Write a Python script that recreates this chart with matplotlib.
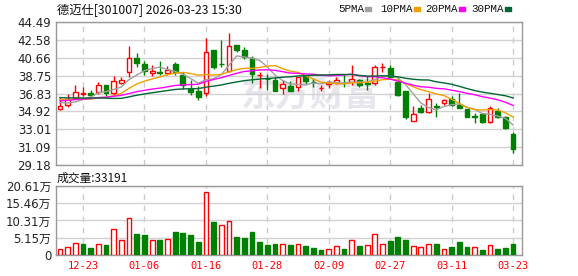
import numpy as np
import pandas as pd
import matplotlib
matplotlib.use("Agg")
import matplotlib.pyplot as plt
from matplotlib.patches import Rectangle

# trading days shown (2025-12-18 .. 2026-03-23)
dates = ["12-18", "12-19", "12-22", "12-23", "12-24", "12-25", "12-26", "12-29", "12-30", "12-31",
         "01-05", "01-06", "01-07", "01-08", "01-09", "01-12", "01-13", "01-14", "01-15", "01-16",
         "01-19", "01-20", "01-21", "01-22", "01-23", "01-26", "01-27", "01-28", "01-29", "01-30",
         "02-02", "02-03", "02-04", "02-05", "02-06", "02-09", "02-10", "02-11", "02-12", "02-13",
         "02-24", "02-25", "02-26", "02-27", "03-02", "03-03", "03-04", "03-05", "03-06", "03-09",
         "03-10", "03-11", "03-12", "03-13", "03-16", "03-17", "03-18", "03-19", "03-20", "03-23"]
tick_dates = ["12-23", "01-06", "01-16", "01-28", "02-09", "02-27", "03-11", "03-23"]

opens = [35.20, 35.60, 36.40, 36.75, 36.92, 36.96, 37.74, 36.86, 37.93, 39.14,
         40.64, 40.03, 38.99, 39.10, 38.99, 39.99, 38.78, 37.35, 37.10, 36.92,
         41.49, 40.00, 39.21, 41.99, 41.49, 40.64, 38.78, 38.42, 38.28, 37.39,
         37.64, 37.55, 38.71, 38.08, 37.42, 37.80, 37.93, 38.00, 38.10, 38.28,
         37.95, 37.99, 39.68, 39.53, 38.10, 37.12, 33.89, 35.25, 34.89, 35.45,
         35.85, 36.21, 35.60, 35.14, 34.40, 34.61, 33.78, 34.99, 34.29, 32.50]
highs = [36.50, 36.75, 37.75, 37.56, 37.21, 38.07, 37.75, 38.71, 38.64, 41.92,
         41.14, 40.35, 39.85, 40.31, 39.81, 40.21, 39.14, 38.25, 37.60, 42.81,
         41.50, 42.60, 43.28, 42.00, 41.78, 40.85, 39.10, 38.92, 38.64, 38.28,
         38.17, 38.64, 38.80, 38.50, 37.70, 38.25, 38.64, 38.92, 39.89, 38.40,
         38.70, 39.92, 40.07, 39.89, 38.46, 37.15, 35.50, 35.57, 36.89, 35.79,
         36.20, 36.57, 36.92, 35.20, 34.71, 34.71, 35.50, 35.25, 34.43, 32.75]
lows = [35.07, 35.42, 36.30, 36.57, 36.57, 36.75, 36.60, 36.67, 37.90, 38.64,
        39.70, 38.82, 38.71, 38.78, 38.82, 38.78, 37.35, 36.71, 36.10, 36.57,
        39.42, 39.67, 39.15, 41.28, 40.49, 37.93, 37.40, 37.21, 37.05, 36.78,
        37.05, 37.10, 37.85, 37.55, 37.14, 37.39, 37.80, 37.56, 37.74, 37.56,
        37.20, 37.74, 39.17, 38.46, 36.57, 34.15, 33.89, 34.71, 34.71, 34.29,
        35.60, 35.55, 35.25, 34.30, 33.64, 33.72, 33.64, 34.20, 33.03, 30.50]
closes = [35.50, 36.20, 37.00, 36.90, 36.72, 37.71, 36.86, 38.14, 38.28, 40.64,
          40.13, 39.22, 39.26, 39.05, 39.35, 39.14, 37.71, 36.99, 36.46, 41.25,
          39.67, 39.95, 41.89, 41.52, 40.74, 38.96, 38.82, 38.38, 37.10, 37.85,
          37.10, 38.60, 38.20, 38.03, 37.45, 38.05, 38.28, 37.95, 38.35, 37.74,
          37.90, 39.64, 39.72, 38.64, 36.67, 34.33, 34.64, 34.82, 36.21, 35.40,
          36.14, 35.60, 35.31, 34.35, 34.37, 33.78, 35.25, 34.35, 33.14, 30.86]
# closes of the sessions before the window (only feed the moving averages)
earlier_closes = [37.2, 37.1, 37.3, 36.5, 37.7, 37.5, 39.0, 38.1, 35.7, 35.0,
                  35.05, 35.45, 35.55, 35.75, 35.65, 36.05, 36.25, 36.15, 36.75, 36.15,
                  36.4, 36.6, 37.0, 36.6, 36.2, 36.4, 36.4, 35.7, 35.3]
# volume in 万 (lots)
volumes = [1.8, 2.3, 3.5, 3.3, 2.1, 3.2, 3.0, 7.9, 4.5, 11.2,
           6.2, 5.9, 4.4, 4.5, 4.7, 6.8, 6.5, 5.9, 3.9, 18.9,
           9.8, 9.1, 10.3, 5.4, 5.1, 6.8, 3.9, 3.0, 3.3, 3.3,
           3.0, 3.3, 2.7, 2.1, 1.5, 1.8, 2.7, 1.8, 4.5, 2.7,
           3.0, 6.2, 3.3, 4.2, 5.4, 4.5, 2.7, 2.4, 3.3, 3.3,
           1.8, 2.4, 3.9, 2.4, 2.4, 1.5, 3.0, 1.8, 2.1, 3.3191]

price_ticks = [29.18, 31.09, 33.01, 34.92, 36.83, 38.75, 40.66, 42.58, 44.49]
vol_ticks = [0, 5.15, 10.31, 15.46, 20.61]

RED = "#ff0000"
GREEN = "#008000"
ma_colors = {5: "#a0a0a0", 10: "#f0a000", 20: "#ff00ff", 30: "#006633"}

n = len(closes)
x = np.arange(n)
o = np.array(opens); c = np.array(closes)
h = np.array(highs); l = np.array(lows)
up = c >= o

allc = pd.Series(earlier_closes + closes)
mas = {w: allc.rolling(w).mean().values[-n:] for w in (5, 10, 20, 30)}

prev = np.array([earlier_closes[-1]] + closes[:-1])
vol_up = c >= prev

W, H = 578, 276
fig = plt.figure(figsize=(W / 100, H / 100), dpi=100)
ax = fig.add_axes([56 / W, 1 - 165 / H, 466 / W, 143 / H])
axv = fig.add_axes([56 / W, 1 - 255 / H, 466 / W, 69 / H])

xlim = (-0.52, n - 1 + 1.17)
tick_pos = [dates.index(d) for d in tick_dates]

for a in (ax, axv):
    a.set_xlim(*xlim)
    a.set_xticks(tick_pos)
    a.tick_params(length=0)
    a.grid(axis="y", color="#d2d2d2", lw=1)
    a.grid(axis="x", color="#cccccc", lw=1, linestyle=(0, (4, 4)))
    a.set_axisbelow(True)
    for s in a.spines.values():
        s.set_color("#999999")
        s.set_linewidth(1)

# watermark
ax.text(0.545, 0.49, "东方财富", transform=ax.transAxes, ha="center", va="center",
        fontsize=25, fontweight="bold", color="#e6e6ec", family=["Noto Sans CJK SC"],
        style="italic", zorder=0)

# candles
bw = 0.62
ax.vlines(x, l, h, colors=np.where(up, RED, GREEN), lw=1, zorder=2)
body_h = np.maximum(np.abs(c - o), 0.03)
ax.bar(x, body_h, bottom=np.minimum(o, c), width=bw,
       color=np.where(up, "white", GREEN), edgecolor=np.where(up, RED, GREEN),
       linewidth=1, zorder=3)

for w in (5, 10, 20, 30):
    ax.plot(x, mas[w], color=ma_colors[w], lw=1, zorder=4)

ax.set_ylim(price_ticks[0], price_ticks[-1])
ax.set_yticks(price_ticks)
ax.set_yticklabels([f"{t:.2f}" for t in price_ticks], fontsize=8.5, color="#222222")
ax.set_xticklabels([])

# volume
axv.bar(x, volumes, width=bw, color=np.where(vol_up, "white", GREEN),
        edgecolor=np.where(vol_up, RED, GREEN), linewidth=1, zorder=3)
axv.set_ylim(0, vol_ticks[-1])
axv.set_yticks(vol_ticks)
axv.set_yticklabels(["0"] + [f"{t:.2f}万" for t in vol_ticks[1:]], fontsize=8.5,
                    color="#222222", family=["DejaVu Sans", "Noto Sans CJK SC"])
axv.set_xticklabels(tick_dates, fontsize=7.5, color=RED, family="DejaVu Sans Mono")
axv.tick_params(axis="x", pad=4)

# titles and legend
fig.text(57 / W, 1 - 10 / H, "德迈仕[301007] 2026-03-23 15:30", fontsize=8.8,
         va="center", ha="left", color="#111111", family=["Noto Sans CJK SC"])
fig.text(57 / W, 1 - 178 / H, "成交量:33191", fontsize=8.5, va="center", ha="left",
         color="#111111", family=["Noto Sans CJK SC"])

legend = [("5PMA", 5, 338, 365), ("10PMA", 10, 380, 414),
          ("20PMA", 20, 425, 459), ("30PMA", 30, 471, 505)]
for label, w, tx, sx in legend:
    fig.text(tx / W, 1 - 9 / H, label, fontsize=7.8, va="center", ha="left",
             color="#111111", family="Liberation Mono")
    fig.patches.append(Rectangle((sx / W, 1 - 11 / H), 6 / W, 4 / H,
                                 transform=fig.transFigure, color=ma_colors[w]))

fig.savefig("out.png", dpi=100)
